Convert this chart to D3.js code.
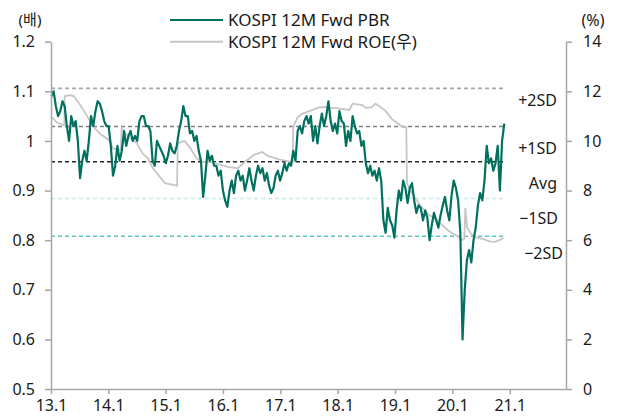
<!DOCTYPE html>
<html>
<head>
<meta charset="utf-8">
<script src="https://cdn.jsdelivr.net/npm/d3@7"></script>
<style>
  body { margin: 0; background: #fff; }
  svg { display: block; font-family: 'Noto Sans', 'Noto Sans CJK KR', sans-serif; }
</style>
</head>
<body>
<div id="chart"></div>
<script>
// KOSPI 12M Fwd PBR, biweekly values starting 2013-01-04
const pbrStart = '2013-01-04'
const pbrValues = [
  1.09, 1.10, 1.07, 1.05, 1.06, 1.08, 1.07, 1.03, 1.00, 1.05,
  1.03, 1.04, 1.00, 0.925, 0.96, 0.98, 0.96, 1.00, 1.05, 1.03,
  1.06, 1.08, 1.075, 1.06, 1.04, 1.03, 1.03, 0.99, 0.93, 0.95,
  0.99, 0.96, 0.98, 1.02, 0.99, 1.01, 1.02, 1.00, 1.01, 1.00,
  1.04, 1.05, 1.05, 1.03, 1.03, 1.02, 0.96, 0.95, 1.00, 0.99,
  0.98, 0.97, 0.955, 0.97, 0.995, 0.98, 0.975, 0.99, 1.02, 1.04,
  1.07, 1.05, 1.05, 1.015, 1.02, 1.00, 1.01, 0.98, 0.96, 0.887,
  0.93, 0.98, 0.96, 0.97, 0.95, 0.95, 0.93, 0.94, 0.90, 0.88,
  0.867, 0.90, 0.92, 0.895, 0.93, 0.94, 0.92, 0.93, 0.90, 0.92,
  0.945, 0.92, 0.90, 0.93, 0.95, 0.935, 0.945, 0.92, 0.935, 0.91,
  0.895, 0.905, 0.93, 0.94, 0.92, 0.935, 0.955, 0.94, 0.955, 0.95,
  0.98, 0.96, 1.02, 1.03, 1.015, 1.04, 1.05, 1.035, 1.05, 1.00,
  1.03, 0.995, 1.03, 1.055, 1.03, 1.05, 1.08, 1.04, 1.02, 1.035,
  1.015, 1.06, 1.04, 1.035, 0.99, 1.02, 1.00, 1.05, 1.03, 1.015,
  1.02, 0.99, 1.00, 0.955, 0.935, 0.95, 0.93, 0.94, 0.92, 0.945,
  0.92, 0.84, 0.815, 0.865, 0.84, 0.83, 0.805, 0.86, 0.90, 0.88,
  0.92, 0.905, 0.875, 0.905, 0.915, 0.88, 0.855, 0.87, 0.865, 0.84,
  0.86, 0.845, 0.80, 0.83, 0.855, 0.84, 0.825, 0.85, 0.87, 0.887,
  0.86, 0.84, 0.89, 0.92, 0.905, 0.88, 0.815, 0.60, 0.70, 0.76,
  0.78, 0.755, 0.80, 0.825, 0.87, 0.895, 0.88, 0.92, 0.99, 0.955,
  0.965, 0.94, 0.955, 0.99, 0.90, 1.00, 1.035
]

// KOSPI 12M Fwd ROE (right axis, %)
const roeDates = [
  '2013-01-08', '2013-02-06', '2013-03-18', '2013-03-27', '2013-03-29', '2013-05-01',
  '2013-05-27', '2013-07-01', '2013-08-10', '2013-09-24', '2013-11-07', '2014-01-12',
  '2014-01-30', '2014-03-22', '2014-03-27', '2014-05-05', '2014-07-02', '2014-08-08',
  '2014-09-10', '2014-10-12', '2014-11-25', '2014-12-28', '2015-03-15', '2015-03-19',
  '2015-05-01', '2015-06-03', '2015-07-17', '2015-08-26', '2015-10-27', '2015-12-10',
  '2016-01-30', '2016-04-05', '2016-05-19', '2016-07-20', '2016-09-06', '2016-10-12',
  '2016-12-28', '2017-03-20', '2017-03-24', '2017-04-20', '2017-05-22', '2017-07-05',
  '2017-08-25', '2017-10-08', '2017-11-28', '2018-01-12', '2018-03-18', '2018-04-05',
  '2018-06-02', '2018-07-02', '2018-08-04', '2018-08-29', '2018-09-24', '2018-11-03',
  '2018-12-09', '2019-01-19', '2019-02-17', '2019-03-14', '2019-03-18', '2019-04-09',
  '2019-05-19', '2019-06-24', '2019-08-08', '2019-09-20', '2019-10-30', '2019-12-13',
  '2020-01-26', '2020-02-28', '2020-03-17', '2020-03-24', '2020-04-04', '2020-05-01',
  '2020-06-03', '2020-07-13', '2020-08-26', '2020-09-28', '2020-10-27', '2020-11-22'
]
const roeValues = [
  10.95, 10.75, 10.65, 10.65, 11.8, 11.85,
  11.8, 11.5, 11.1, 10.6, 10.3, 10.0,
  9.7, 9.64, 10.5, 10.2, 9.9, 9.5,
  9.3, 8.9, 8.55, 8.3, 8.2, 9.9,
  10.0, 9.75, 9.3, 9.15, 9.15, 9.05,
  8.95, 8.9, 9.15, 9.45, 9.55, 9.4,
  9.25, 9.15, 10.56, 10.95, 11.1, 11.2,
  11.33, 11.37, 11.33, 11.3, 11.25, 11.5,
  11.45, 11.33, 11.35, 11.5, 11.4, 11.2,
  10.9, 10.7, 10.56, 10.56, 8.3, 8.0,
  7.6, 7.3, 7.0, 6.85, 6.6, 6.35,
  6.2, 6.0, 6.05, 7.3, 6.5, 6.25,
  6.1, 6.05, 5.95, 5.93, 6.0, 6.1
]

// band lines on PBR axis
const bandLabels = ['+2SD', '+1SD', 'Avg', '\u22121SD', '\u22122SD']
const bandValues = [1.106, 1.029, 0.958, 0.884, 0.808]
const bandColors = ['#a8a8a8', '#7f7f7f', '#262626', '#c4ebe4', '#5cc7b7']

const xTickLabels = ['13.1', '14.1', '15.1', '16.1', '17.1', '18.1', '19.1', '20.1', '21.1']
const leftTicks = [0.5, 0.6, 0.7, 0.8, 0.9, 1.0, 1.1, 1.2]
const rightTicks = [0, 2, 4, 6, 8, 10, 12, 14]

const seriesNames = ['KOSPI 12M Fwd PBR', 'KOSPI 12M Fwd ROE(우)']
const seriesColors = ['#00705f', '#c6c6c6']

const W = 621, H = 420
const plotLeft = 51, plotRight = 566, plotTop = 41.7, plotBottom = 389

const parse = d3.timeParse('%Y-%m-%d')
const pbrData = pbrValues.map((v, i) => ({ date: d3.timeDay.offset(parse(pbrStart), i * 14), value: v }))
const roeData = roeDates.map((d, i) => ({ date: parse(d), value: roeValues[i] }))
const endDate = pbrData[pbrData.length - 1].date

const x = d3.scaleTime()
  .domain([parse('2013-01-01'), parse('2021-12-25')])
  .range([plotLeft, plotRight])
const yL = d3.scaleLinear().domain([0.5, 1.2]).range([plotBottom, plotTop])
const yR = d3.scaleLinear().domain([0, 14]).range([plotBottom, plotTop])

const svg = d3.select('#chart').append('svg')
  .attr('width', W)
  .attr('height', H)

const axisColor = '#a6a6a6'
const textColor = '#1a1a1a'
const fontSize = 16

// band lines
const bands = svg.append('g').attr('class', 'bands')
bandValues.forEach((v, i) => {
  bands.append('line')
    .attr('x1', plotLeft)
    .attr('x2', x(endDate))
    .attr('y1', yL(v))
    .attr('y2', yL(v))
    .attr('stroke', bandColors[i])
    .attr('stroke-width', 1.6)
    .attr('stroke-dasharray', '4,3')
})

// ROE line
svg.append('path')
  .datum(roeData)
  .attr('fill', 'none')
  .attr('stroke', seriesColors[1])
  .attr('stroke-width', 1.8)
  .attr('d', d3.line().x(d => x(d.date)).y(d => yR(d.value)))

// PBR line
svg.append('path')
  .datum(pbrData)
  .attr('fill', 'none')
  .attr('stroke', seriesColors[0])
  .attr('stroke-width', 2.2)
  .attr('stroke-linejoin', 'round')
  .attr('d', d3.line().x(d => x(d.date)).y(d => yL(d.value)))

// axes
const xAxis = svg.append('g')
  .attr('transform', `translate(0,${plotBottom})`)
  .call(d3.axisBottom(x)
    .tickValues(xTickLabels.map(t => parse('20' + t.split('.')[0] + '-01-01')))
    .tickFormat((d, i) => xTickLabels[i])
    .tickSizeInner(5)
    .tickSizeOuter(0)
    .tickPadding(6))

const yAxisL = svg.append('g')
  .attr('transform', `translate(${plotLeft},0)`)
  .call(d3.axisLeft(yL)
    .tickValues(leftTicks)
    .tickFormat(d => d3.format('.1f')(d).replace('1.0', '1'))
    .tickSizeInner(6)
    .tickSizeOuter(0)
    .tickPadding(10))

const yAxisR = svg.append('g')
  .attr('transform', `translate(${plotRight},0)`)
  .call(d3.axisRight(yR)
    .tickValues(rightTicks)
    .tickSizeInner(6)
    .tickSizeOuter(0)
    .tickPadding(11))

;[xAxis, yAxisL, yAxisR].forEach(g => {
  g.select('.domain').attr('stroke', axisColor).attr('stroke-width', 1.5)
  g.selectAll('.tick line').attr('stroke', axisColor).attr('stroke-width', 1.5)
  g.selectAll('.tick text')
    .attr('fill', textColor)
    .style('font-size', fontSize + 'px')
    .style('font-family', "'Noto Sans', sans-serif")
})
yAxisR.selectAll('.tick text').attr('text-anchor', 'start')

// unit labels
svg.append('text')
  .attr('x', 30).attr('y', 20).attr('dy', '0.35em')
  .attr('text-anchor', 'middle')
  .attr('fill', textColor)
  .style('font-size', '15px')
  .text('(배)')
svg.append('text')
  .attr('x', 593).attr('y', 20).attr('dy', '0.35em')
  .attr('text-anchor', 'middle')
  .attr('fill', textColor)
  .style('font-size', fontSize + 'px')
  .text('(%)')

// band labels
const bandLabelY = [100, 148, 183, 218, 253]
const bandLabelX = [557, 557, 557, 558, 563]
bandLabels.forEach((t, i) => {
  svg.append('text')
    .attr('x', bandLabelX[i])
    .attr('y', bandLabelY[i])
    .attr('dy', '0.35em')
    .attr('text-anchor', 'end')
    .attr('fill', textColor)
    .style('font-size', fontSize + 'px')
    .text(t)
})

// legend
const legend = svg.append('g').attr('class', 'legend')
seriesNames.forEach((name, i) => {
  const ly = 20 + i * 21.7
  legend.append('line')
    .attr('x1', 170).attr('x2', 223)
    .attr('y1', ly).attr('y2', ly)
    .attr('stroke', seriesColors[i])
    .attr('stroke-width', 2)
  legend.append('text')
    .attr('x', 228).attr('y', ly)
    .attr('dy', '0.35em')
    .attr('fill', textColor)
    .style('font-size', '17px')
    .text(name)
})
</script>
</body>
</html>
